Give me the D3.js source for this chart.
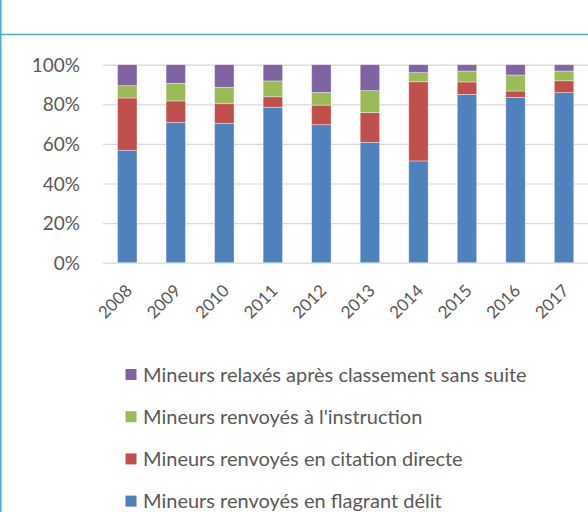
<!DOCTYPE html>
<html><head><meta charset="utf-8">
<script src="https://cdn.jsdelivr.net/npm/d3@7"></script>
<style>html,body{margin:0;padding:0;background:#fff;overflow:hidden}</style>
</head><body>
<svg id="c" width="588" height="512"></svg>
<script>
const years = ["2008","2009","2010","2011","2012","2013","2014","2015","2016","2017"];
const flagrant = [56.8,70.9,70.4,78.5,69.7,60.8,51.4,85.0,83.5,85.9];
const citation = [26.4,10.8,9.9,5.3,9.9,15.0,40.0,6.3,3.2,6.0];
const instruction = [6.2,8.9,8.3,8.0,6.4,11.1,4.6,5.5,8.1,4.9];
const relaxes = [10.6,9.4,11.4,8.2,14.0,13.1,4.0,3.2,5.2,3.2];
const yTicks = [0,20,40,60,80,100];
const seriesNames = ["Mineurs renvoyés en flagrant délit","Mineurs renvoyés en citation directe","Mineurs renvoyés à l'instruction","Mineurs relaxés après classement sans suite"];
const colors = ["#4F81BD","#C0504D","#9BBB59","#8064A2"];

const font = "Lato, 'Open Sans', sans-serif";
const svg = d3.select("#c");
const keys = ["flagrant","citation","instruction","relaxes"];
const table = years.map((y,i)=>({year:y, flagrant:flagrant[i], citation:citation[i], instruction:instruction[i], relaxes:relaxes[i]}));
const stack = d3.stack().keys(keys)(table);

const x = d3.scaleBand().domain(years).range([103,588.3]).paddingInner(0.6).paddingOuter(0.3);
const y = d3.scaleLinear().domain([0,100]).range([262.7,64.7]);

// frame
svg.append("line").attr("x1",0).attr("x2",588).attr("y1",34.5).attr("y2",34.5).attr("stroke","#4BACC6").attr("stroke-width",1.5);
svg.append("line").attr("x1",0.75).attr("x2",0.75).attr("y1",0).attr("y2",512).attr("stroke","#4BACC6").attr("stroke-width",1.5);

// gridlines
const yAxis = d3.axisLeft(y).tickValues(yTicks).tickFormat(d=>d+"%").tickSize(-(588.3-103)).tickPadding(23);
const gy = svg.append("g").attr("transform","translate(103,0)").call(yAxis);
gy.select(".domain").remove();
gy.selectAll(".tick line").attr("stroke","#D9D9D9").attr("stroke-width",1.2);
gy.selectAll(".tick text").attr("fill","#595959").style("font-family",font).style("font-size","19px").attr("dy","0.35em");

// bars
svg.append("g").selectAll("g").data(stack).join("g").attr("fill",(d,i)=>colors[i])
  .selectAll("rect").data(d=>d).join("rect")
  .attr("x",d=>x(d.data.year)).attr("width",x.bandwidth())
  .attr("y",d=>y(d[1])).attr("height",d=>y(d[0])-y(d[1]))
  .attr("stroke","#ffffff").attr("stroke-opacity",0.45).attr("stroke-width",0.8);

// x labels
const xAxis = d3.axisBottom(x).tickSize(0).tickPadding(0);
const gx = svg.append("g").attr("transform","translate(0,262.7)").call(xAxis);
gx.select(".domain").remove();
gx.selectAll(".tick text").attr("fill","#595959").style("font-family",font).style("font-size","17px")
  .attr("text-anchor","end").attr("dy",null).attr("y",null)
  .attr("transform","translate(6,29) rotate(-45)");

// legend (reverse order)
const legendOrder = [3,2,1,0];
const lg = svg.append("g").selectAll("g").data(legendOrder).join("g")
  .attr("transform",(d,i)=>`translate(125.5,${369+i*42.2})`);
lg.append("rect").attr("width",11).attr("height",11).attr("fill",d=>colors[d]);
lg.append("text").attr("x",17.5).attr("y",5.5).attr("dy","0.36em").attr("fill","#595959")
  .style("font-family",font).style("font-size","20px").text(d=>seriesNames[d]);
</script>
</body></html>
